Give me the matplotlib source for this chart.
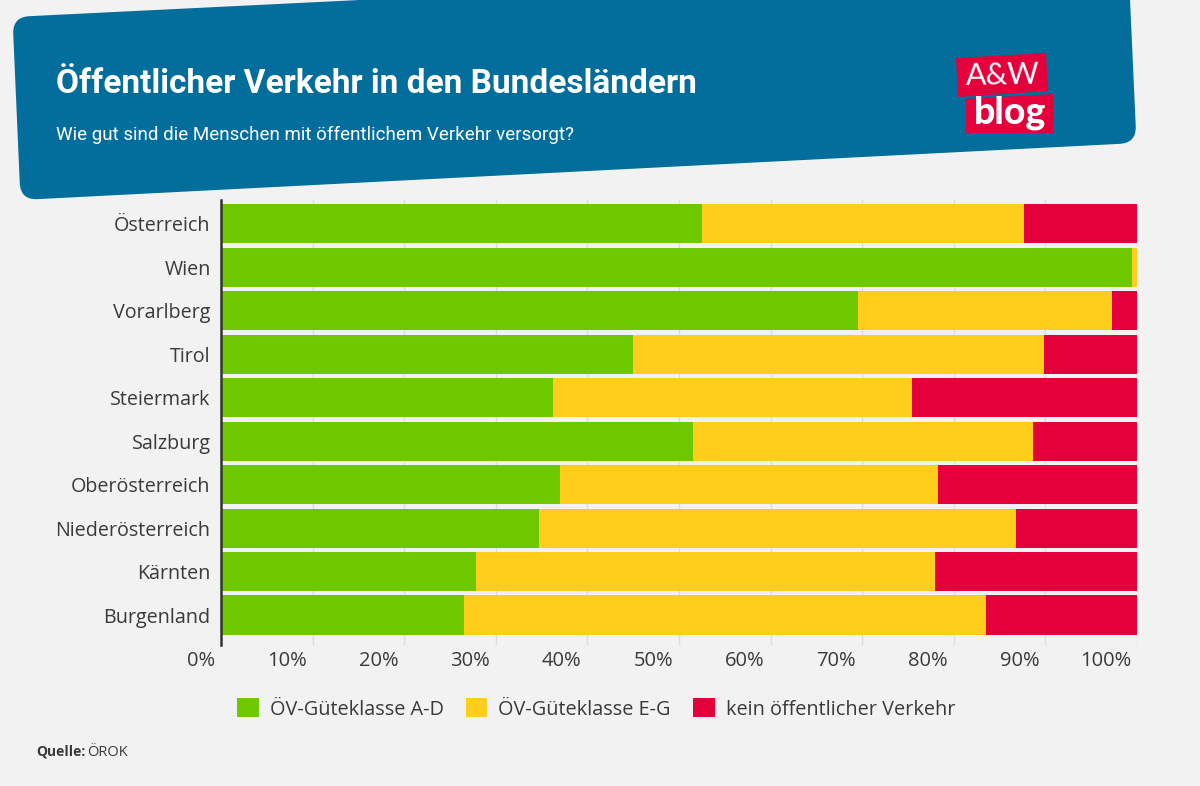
import numpy as np
import matplotlib
matplotlib.use("Agg")
import matplotlib.pyplot as plt
from matplotlib.patches import Polygon, PathPatch
from matplotlib.path import Path
from matplotlib.transforms import ScaledTranslation

regions = ["Österreich", "Wien", "Vorarlberg", "Tirol", "Steiermark", "Salzburg",
           "Oberösterreich", "Niederösterreich", "Kärnten", "Burgenland"]
good = [52.5, 99.4, 69.5, 45.0, 36.2, 51.5, 37.0, 34.7, 27.8, 26.5]
medium = [35.2, 0.6, 27.8, 44.8, 39.2, 37.1, 41.3, 52.1, 50.1, 57.0]
none = [12.3, 0.0, 2.7, 10.2, 24.6, 11.4, 21.7, 13.2, 22.1, 16.5]
x_ticks = [0, 10, 20, 30, 40, 50, 60, 70, 80, 90, 100]
series_names = ["ÖV-Güteklasse A-D", "ÖV-Güteklasse E-G", "kein öffentlicher Verkehr"]

GREEN = "#6dc800"
YELLOW = "#ffcd1c"
RED = "#e4003a"
BLUE = "#036d9b"
BG = "#f2f2f2"
TEXT = "#3a3a3a"
W, H = 1200, 786
FONT = "Open Sans"
HEAD_FONT = "Roboto"


def rounded_poly(pts, r):
    # polygon with rounded corners, points in pixels
    verts, codes = [], []
    n = len(pts)
    for i in range(n):
        p = np.array(pts[i], float)
        a = np.array(pts[i - 1], float)
        b = np.array(pts[(i + 1) % n], float)
        p1 = p + (a - p) / np.linalg.norm(a - p) * r
        p2 = p + (b - p) / np.linalg.norm(b - p) * r
        verts += [p1, p, p2]
        codes += [Path.MOVETO if i == 0 else Path.LINETO, Path.CURVE3, Path.CURVE3]
    verts.append(verts[0])
    codes.append(Path.CLOSEPOLY)
    return Path(verts, codes)


plt.rcParams["font.family"] = FONT
fig = plt.figure(figsize=(12, 7.86), dpi=100, facecolor=BG)

# background layer in pixel coords for header and logo
bg = fig.add_axes([0, 0, 1, 1])
bg.set_xlim(0, W)
bg.set_ylim(H, 0)
bg.axis("off")

header = [(12.5, 17), (380, -1), (1128, -45), (1136.5, 143), (20.5, 200)]
bg.add_patch(PathPatch(rounded_poly(header, 17), fc=BLUE, ec="none"))
bg.text(56, 93, "Öffentlicher Verkehr in den Bundesländern", color="white",
        fontsize=24, fontweight="bold", family=HEAD_FONT, va="baseline", ha="left")
bg.text(56, 140, "Wie gut sind die Menschen mit öffentlichem Verkehr versorgt?", color="white",
        fontsize=13.5, family=HEAD_FONT, va="baseline", ha="left")

# logo
bg.add_patch(Polygon([(956, 58), (1046, 53), (1048, 91), (958, 97)], fc=RED, ec="none"))
bg.add_patch(Polygon([(966, 99), (1053, 94), (1053, 133), (966, 133)], fc=RED, ec="none"))
bg.text(1003, 75, "A&W", color="white", fontsize=22, fontweight="normal", family="Lato",
        va="center", ha="center", rotation=1)
bg.text(1010.5, 113, "blog", color="white", fontsize=27, fontweight="black", family="Lato",
        va="center", ha="center")

bg.text(36, 756, "Quelle:", color=TEXT, fontsize=10, fontweight="bold", family=FONT, va="baseline")
bg.text(87, 756, "ÖROK", color=TEXT, fontsize=10.5, family=FONT, va="baseline")

# chart
ax = fig.add_axes([221 / W, 1 - 645 / H, (1137 - 221) / W, 445 / H])
ax.patch.set_alpha(0)
y = np.arange(len(regions))
good = np.array(good)
medium = np.array(medium)
none = np.array(none)
b1 = ax.barh(y, good, height=0.9, color=GREEN, label=series_names[0], zorder=3)
b2 = ax.barh(y, medium, left=good, height=0.9, color=YELLOW, label=series_names[1], zorder=3)
b3 = ax.barh(y, none, left=good + medium, height=0.9, color=RED, label=series_names[2], zorder=3)

ax.set_xlim(0, 100)
ax.set_ylim(9.69, -0.55)
ax.set_yticks(y)
ax.set_yticklabels(regions, fontsize=14.2, color=TEXT)
ax.set_xticks(x_ticks)
ax.set_xticklabels([f"{t}%" for t in x_ticks], fontsize=14.5, color=TEXT, ha="right")
ax.tick_params(axis="y", length=0, pad=7.5)
ax.tick_params(axis="x", length=0, pad=4.5)
offset = ScaledTranslation(-6 / 100, 0, fig.dpi_scale_trans)
for lab in ax.get_xticklabels():
    lab.set_transform(lab.get_transform() + offset)
ax.grid(axis="x", color="#dcdcdc", linewidth=1, zorder=0)
for side in ["top", "right", "bottom"]:
    ax.spines[side].set_visible(False)
ax.spines["left"].set_color("#333333")
ax.spines["left"].set_linewidth(1.8)
ax.spines["left"].set_zorder(5)

ax.legend(handles=[b1, b2, b3], loc="center left", bbox_to_anchor=(237 / W, 1 - 709 / H),
          bbox_transform=fig.transFigure, ncol=3, frameon=False, fontsize=14.3, labelcolor=TEXT,
          handlelength=1.1, handleheight=1.1, handletextpad=0.55, columnspacing=1.1,
          borderpad=0, borderaxespad=0)

fig.savefig("out.png", dpi=100, facecolor=BG)
